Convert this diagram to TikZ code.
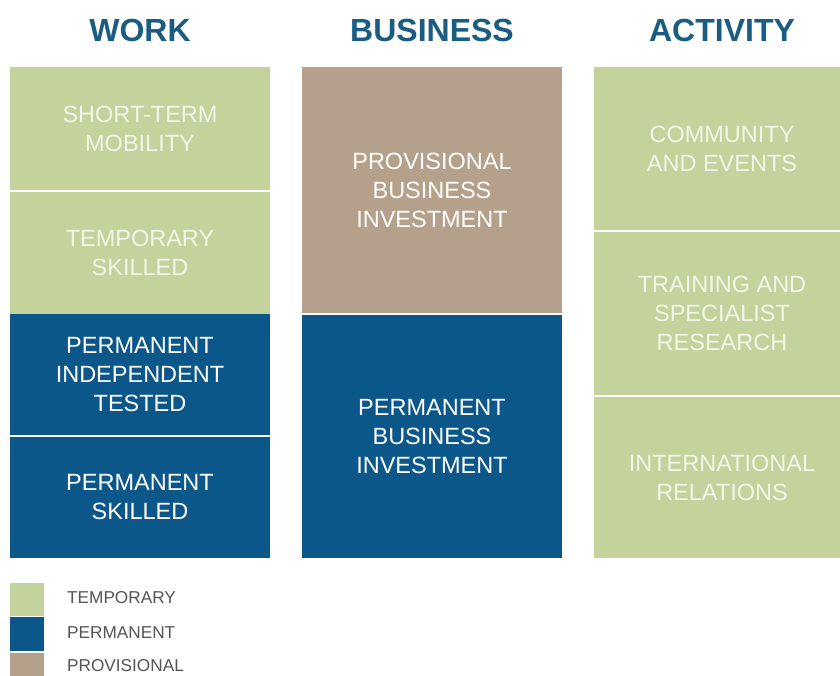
\documentclass[tikz,border=0pt]{standalone}
\usepackage{fontspec}
\setmainfont{Liberation Sans}
\definecolor{tempgreen}{RGB}{196,211,156}
\definecolor{permblue}{RGB}{12,87,138}
\definecolor{provbrown}{RGB}{181,161,139}
\definecolor{headblue}{RGB}{26,92,130}
\definecolor{paletext}{RGB}{242,245,232}
\definecolor{legendgray}{RGB}{85,85,85}
\begin{document}
\begin{tikzpicture}[x=1pt,y=-1pt,
  box/.style={inner sep=0pt,outer sep=0pt,align=center,
    font=\fontsize{23.5}{29}\selectfont},
  tempbox/.style={box,fill=tempgreen,text=paletext},
  permbox/.style={box,fill=permblue,text=white},
  provbox/.style={box,fill=provbrown,text=white},
  head/.style={font=\fontsize{32}{36}\selectfont\bfseries,text=headblue,inner sep=0pt},
  legsq/.style={inner sep=0pt,outer sep=0pt},
  legtxt/.style={anchor=west,inner sep=0pt,text=legendgray,font=\fontsize{17.2}{20}\selectfont}]
\useasboundingbox (0,0) rectangle (840,676);
\fill[white] (0,0) rectangle (840,676);
% headers
\node[head] (hwork) at (140,30) {WORK};
\node[head] (hbus) at (432,30) {BUSINESS};
\node[head] (hact) at (722,30) {ACTIVITY};
% work column
\node[tempbox,minimum width=260pt,minimum height=123pt] (w1) at (140,128.5) {SHORT-TERM\\MOBILITY};
\node[tempbox,minimum width=260pt,minimum height=122pt] (w2) at (140,253) {TEMPORARY\\SKILLED};
\node[permbox,minimum width=260pt,minimum height=121pt] (w3) at (140,374.5) {PERMANENT\\INDEPENDENT\\TESTED};
\node[permbox,minimum width=260pt,minimum height=121pt] (w4) at (140,497.5) {PERMANENT\\SKILLED};
% business column
\node[provbox,minimum width=260pt,minimum height=246pt] (b1) at (432,190) {PROVISIONAL\\BUSINESS\\INVESTMENT};
\node[permbox,minimum width=260pt,minimum height=243pt] (b2) at (432,436.5) {PERMANENT\\BUSINESS\\INVESTMENT};
% activity column (extends past the right edge of the page)
\node[tempbox,minimum width=256pt,minimum height=163pt] (a1) at (722,148.5) {COMMUNITY\\AND EVENTS};
\node[tempbox,minimum width=256pt,minimum height=163pt] (a2) at (722,313.5) {TRAINING AND\\SPECIALIST\\RESEARCH};
\node[tempbox,minimum width=256pt,minimum height=161pt] (a3) at (722,477.5) {INTERNATIONAL\\RELATIONS};
% legend
\node[legsq,fill=tempgreen,minimum width=34pt,minimum height=33pt] (lt) at (27,599.5) {};
\node[legsq,fill=permblue,minimum width=34pt,minimum height=34pt] (lp) at (27,634) {};
\node[legsq,fill=provbrown,minimum width=34pt,minimum height=23pt] (lv) at (27,664.5) {};
\node[legtxt] (ltt) at (67,598) {TEMPORARY};
\node[legtxt] (lpt) at (67,633) {PERMANENT};
\node[legtxt] (lvt) at (67,666) {PROVISIONAL};
\end{tikzpicture}
\end{document}
